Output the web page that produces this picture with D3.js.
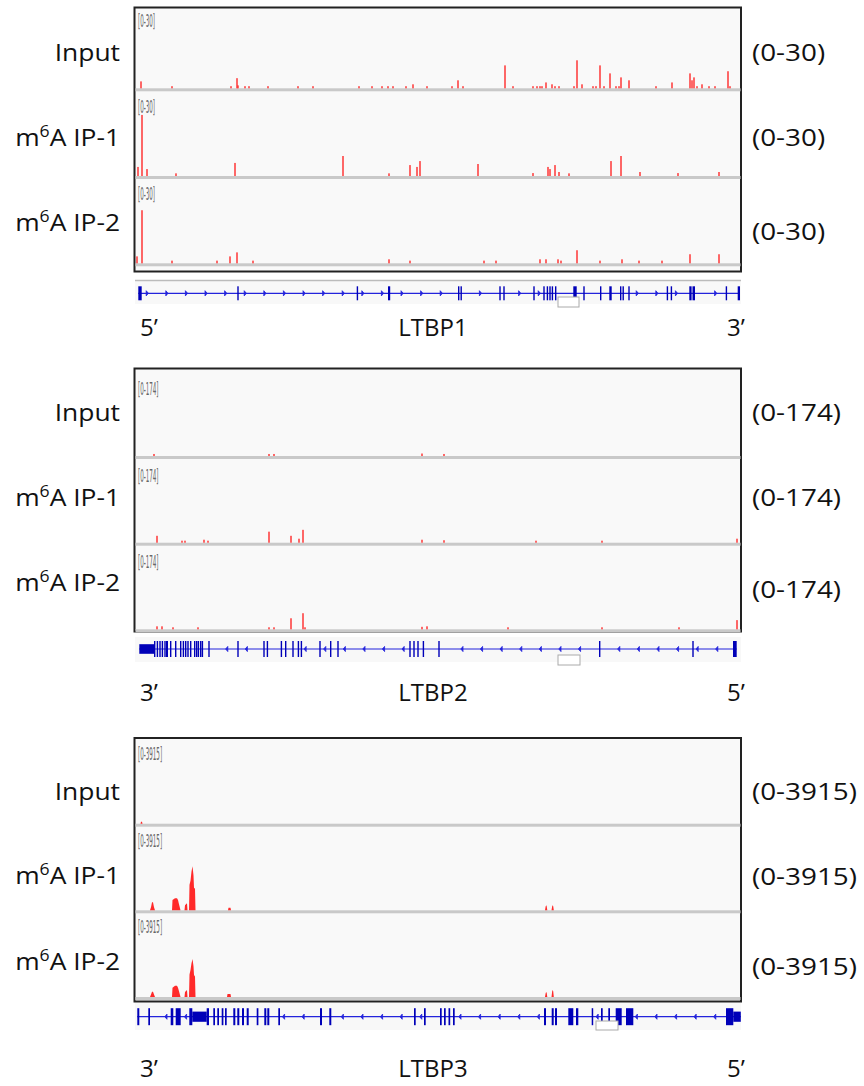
<!DOCTYPE html>
<html>
<head>
<meta charset="utf-8">
<script src="https://cdn.jsdelivr.net/npm/d3@7"></script>
<style>
  body { margin: 0; background: #fff; }
  text { font-family: "Open Sans", sans-serif; }
</style>
</head>
<body>
<div id="chart-area"></div>
<script>
// ---- data ----
var trackNames = ["Input", "IP-1", "IP-2"];
var geneNames = ["LTBP1", "LTBP2", "LTBP3"];
var dataRanges = [30, 174, 3915];
var endLabels = [["5’", "3’"], ["3’", "5’"], ["3’", "5’"]];
var strands = [1, -1, -1];

// [position, value]  (position along the locus, 0-606)
var ltbp1Input = [[6,2.6],[37,0.8],[96,0.8],[102,3.8],[103,1.1],[110,0.8],[114,0.8],[133,0.8],[163,0.8],[178,0.8],
  [224,0.8],[237,0.8],[247,0.8],[253,0.8],[258,0.8],[271,0.8],[278,1.5],[292,0.8],[317,0.8],[323,3],[328,0.8],
  [370,8.6],[378,0.8],[398,0.8],[402,0.8],[405,0.8],[407,0.8],[411,2.2],[417,1.5],[420,0.8],[424,0.8],[439,0.8],
  [442,10.5],[447,1.5],[458,0.8],[461,0.8],[465,8.6],[469,0.8],[475,5.6],[481,0.8],[484,0.8],[486,4.1],[494,3],
  [521,0.8],[537,2.2],[555,5.6],[557,3],[559,4.1],[562,0.8],[567,1.5],[574,0.8],[580,0.8],[593,6.4],[595,0.8]];
var ltbp1IP1 = [[3,3.4],[7,22.9],[12,2.6],[41,1],[100,4.9],[208,7.5],[254,1],[275,4.1],[282,3.4],[285,5.6],
  [343,4.5],[398,1.1],[413,3.4],[415,2.6],[420,4.1],[424,1.5],[434,1],[476,5.6],[486,7.5],[505,1.5],[543,1.1],[584,1.5]];
var ltbp1IP2 = [[2,2.6],[7,19.9],[37,1],[82,1],[95,2.6],[102,4.1],[118,1],[254,1.5],[275,1],[349,1],[361,1],
  [405,1.5],[411,1.5],[423,1.5],[426,1],[442,4.9],[465,1],[487,1.5],[504,1],[527,1],[555,3.4],[584,3.4]];

var ltbp2Input = [[19,4.4],[134,4.4],[139,4.4],[287,5.4],[309,4.4]];
var ltbp2IP1 = [[22,15],[47,4.4],[50,4.4],[69,6.5],[73,4.4],[134,24],[156,15],[164,8.7],[168,28],[287,6.5],
  [309,5.4],[401,4.4],[467,4.4],[602,8.7]];
var ltbp2IP2 = [[22,6.5],[27,6.5],[38,4.4],[63,4.4],[134,4.4],[139,4.4],[156,24],[168,35],[170,4.4],[287,5.4],
  [292,6.5],[373,4.4],[467,4.4],[544,4.4],[602,20]];

// coverage profiles for LTBP3
var ltbp3Input = [[5.5,0],[6,100],[7,100],[7.5,0]];
var ltbp3IP1 = [[15,0],[16,150],[17,390],[18,390],[19,150],[20,0],
  [37,0],[37.5,500],[40,590],[42,590],[43,500],[44,300],[45,100],[45.5,0],
  [49.5,0],[50,250],[52,340],[52.5,0],
  [54,0],[54.5,1250],[55.5,1450],[56.5,1900],[57.5,2160],[58.5,1700],[59,1100],[60,1050],[60.5,0],
  [93,0],[93.5,120],[95.5,120],[96,0],
  [410,0],[410.7,200],[411.2,250],[411.7,200],[412.3,0],
  [416.5,0],[417.2,200],[417.7,250],[418.2,200],[418.8,0]];
var ltbp3IP2 = [[15,0],[16,120],[17,260],[18,260],[19,120],[20,0],
  [37,0],[37.5,450],[40,550],[42,550],[43,450],[44,280],[45,100],[45.5,0],
  [49.5,0],[50,250],[52,340],[52.5,0],
  [54,0],[54.5,1100],[55.5,1320],[56.5,1650],[57.5,1860],[58.5,1500],[59,1080],[60,1000],[60.5,0],
  [92,0],[92.5,150],[95.5,150],[96,0],
  [410,0],[410.7,200],[411.2,250],[411.7,200],[412.3,0],
  [416.5,0],[417.2,280],[417.7,340],[418.2,280],[418.8,0]];

// exons: [start, length, kind]  c = coding, u = utr
var ltbp1Exons = [[3.3,3.4,"c"],[102.3,1.4,"c"],[221.7,1.4,"c"],[253,2.2,"c"],[323,1.4,"c"],[325.5,1.4,"c"],
  [364.3,1.4,"c"],[368.3,1.4,"c"],[398.3,1.4,"c"],[408.3,1.4,"c"],[411.7,1.4,"c"],[414.3,1.4,"c"],[416.7,1.4,"c"],
  [420,1.4,"c"],[438.3,3.4,"c"],[448.3,1.4,"c"],[465,1.4,"c"],[474.3,2.4,"c"],[485,1.3,"c"],[487.5,1.3,"c"],
  [493.3,1.4,"c"],[531.7,1.4,"c"],[535.7,1.4,"c"],[554.3,2.3,"c"],[557.5,2.5,"c"],[590.7,1.4,"c"],[602.7,2.3,"c"]];
var ltbp2Exons = [[4.3,14.7,"u"],[19,1.4,"c"],[21.7,1.4,"c"],[24.3,1.4,"c"],[26.7,1.4,"c"],[29.3,1.4,"c"],[31,2,"c"],
  [35,1.4,"c"],[40,1.4,"c"],[45,1.4,"c"],[47.7,1.4,"c"],[50,1.4,"c"],[52.3,1.4,"c"],[55,1.4,"c"],[59,1.4,"c"],
  [61,1.4,"c"],[62.7,1.4,"c"],[65,1.4,"c"],[66.7,1.4,"c"],[73.3,1.4,"c"],[102.3,1.4,"c"],[128.3,1.4,"c"],
  [131.7,1.4,"c"],[145.7,1.4,"c"],[150,1.4,"c"],[157.3,1.4,"c"],[162.7,1.4,"c"],[165.7,1.4,"c"],[184.3,1.4,"c"],
  [195,1.4,"c"],[202.3,1.4,"c"],[274.3,1.4,"c"],[278.3,1.4,"c"],[282.3,1.4,"c"],[287.7,1.4,"c"],[303.3,1.4,"c"],
  [464,1.4,"c"],[557.3,1.4,"c"],[598,3.7,"c"]];
var ltbp3Exons = [[2.3,2,"c"],[13.3,1.7,"c"],[35.7,2.6,"c"],[40.7,5,"c"],[54.3,3,"c"],[57.3,14.4,"u"],[71.7,2.3,"c"],
  [78.3,1.7,"c"],[82.3,1.7,"c"],[86.7,1.7,"c"],[90,1.7,"c"],[98.3,2,"c"],[102.3,2,"c"],[107,2,"c"],[111.7,2,"c"],
  [121.7,1.7,"c"],[129.3,2,"c"],[132.3,2,"c"],[143.3,1.7,"c"],[185,2,"c"],[194.3,2,"c"],[279,1.7,"c"],[289,1.7,"c"],
  [305,1.7,"c"],[309,1.7,"c"],[313.5,1.7,"c"],[318,1.7,"c"],[409,2,"c"],[416.7,2,"c"],[420,2,"c"],[433.3,5,"c"],
  [441,2.3,"c"],[456.7,1.5,"c"],[466,1.7,"c"],[473.3,1.7,"c"],[480.7,6,"c"],[491,7.3,"c"],[591,7.3,"c"],[598.3,7.5,"u"]];

// ---- layout ----
var panels = [
  { tracks: [ltbp1Input, ltbp1IP1, ltbp1IP2], type: "bar", exons: ltbp1Exons,
    boxTop: 7.5, boxBottom: 271.5, baselines: [88.3, 176, 263.3], tagTop: [11, 97, 184],
    leftY: [61, 146, 231], rightY: [61, 146, 240],
    geneY: 293.3, geneBg: [280, 304], exonH: 14, bottomY: 336, tagBox: [558, 297, 21, 10] },
  { tracks: [ltbp2Input, ltbp2IP1, ltbp2IP2], type: "bar", exons: ltbp2Exons,
    boxTop: 368.5, boxBottom: 631.5, baselines: [456, 542.7, 629.3], tagTop: [379, 466, 552],
    leftY: [421, 506, 591], rightY: [421, 506, 598],
    geneY: 649, geneBg: [637, 662], exonH: 16, bottomY: 701, tagBox: [558, 655, 22, 10] },
  { tracks: [ltbp3Input, ltbp3IP1, ltbp3IP2], type: "area", exons: ltbp3Exons,
    boxTop: 738, boxBottom: 1001.5, baselines: [823.7, 910.3, 997], tagTop: [744, 831, 917],
    leftY: [800, 884, 970], rightY: [800, 885, 975],
    geneY: 1016.7, geneBg: [1003, 1030], exonH: 17, bottomY: 1077, tagBox: [596, 1021, 22, 9] }
];

var width = 864, height = 1086;
var left = 135, right = 741;
var trackH = 80;

var svg = d3.select("#chart-area").append("svg")
  .attr("width", width)
  .attr("height", height);

var x = d3.scaleLinear()
  .domain([0, 606])
  .range([left, right]);

var red = "#ff2a2a";
var blue = "#0000b8";
var lineBlue = "#2323dc";

panels.forEach(function(p, pi) {
  var g = svg.append("g");

  // panel box
  g.append("rect")
    .attr("x", left - 0.5)
    .attr("y", p.boxTop)
    .attr("width", right - left + 0.5)
    .attr("height", p.boxBottom - p.boxTop)
    .attr("fill", "#f9f9f9")
    .attr("stroke", "#222")
    .attr("stroke-width", 2);

  p.tracks.forEach(function(vals, ti) {
    var base = p.baselines[ti];
    var y = d3.scaleLinear()
      .domain([0, dataRanges[pi]])
      .range([base, base - trackH]);

    // baseline separator
    g.append("rect")
      .attr("x", left + 0.5)
      .attr("y", base)
      .attr("width", right - left - 1)
      .attr("height", 3)
      .attr("fill", "#c9c9c9");

    if (p.type == "bar") {
      g.append("g").selectAll("rect")
        .data(vals)
        .join("rect")
          .attr("x", d => x(d[0]) - 0.7)
          .attr("width", 1.4)
          .attr("y", d => y(d[1]))
          .attr("height", d => base - y(d[1]))
          .attr("fill", red);
    } else {
      var area = d3.area()
        .x(d => x(d[0]))
        .y0(base)
        .y1(d => y(d[1]));
      g.append("path")
        .attr("d", area(vals))
        .attr("fill", red);
    }

    // little data range tag in the corner
    g.append("text")
      .attr("transform", "translate(" + (left + 3) + "," + (p.tagTop[ti] + 16) + ") scale(0.62,2)")
      .attr("font-size", 9)
      .attr("fill", "#666")
      .style("font-family", "DejaVu Sans")
      .text("[0-" + dataRanges[pi] + "]");

    // left label (slightly stretched like the original)
    var lab = g.append("text")
      .attr("transform", "translate(120," + p.leftY[ti] + ") scale(1.1,1)")
      .attr("text-anchor", "end")
      .attr("font-size", 24)
      .attr("fill", "#111");
    if (ti == 0) {
      lab.text(trackNames[ti]);
    } else {
      lab.append("tspan").text("m");
      lab.append("tspan").attr("dy", -9).attr("font-size", 16).text("6");
      lab.append("tspan").attr("dy", 9).text("A " + trackNames[ti]);
    }

    // right label
    g.append("text")
      .attr("transform", "translate(752," + p.rightY[ti] + ") scale(1.16,1)")
      .attr("font-size", 24)
      .attr("fill", "#111")
      .text("(0-" + dataRanges[pi] + ")");
  });

  // gene model
  var gy = p.geneY;
  g.append("rect")
    .attr("x", left)
    .attr("y", p.geneBg[0])
    .attr("width", right - left)
    .attr("height", p.geneBg[1] - p.geneBg[0])
    .attr("fill", "#f8f8f8");
  if (pi == 0) {
    g.append("line")
      .attr("x1", left).attr("x2", right)
      .attr("y1", p.geneBg[0] + 0.5).attr("y2", p.geneBg[0] + 0.5)
      .attr("stroke", "#bbb").attr("stroke-width", 1.5);
  }

  var ex = p.exons;
  var first = ex[0][0], last = ex[ex.length - 1][0] + ex[ex.length - 1][1];
  g.append("line")
    .attr("x1", x(first)).attr("x2", x(last))
    .attr("y1", gy).attr("y2", gy)
    .attr("stroke", lineBlue)
    .attr("stroke-width", 1.2);

  // strand arrows along the introns
  var arrows = d3.range(first + 9, last - 3, 19.6).filter(function(a) {
    return !ex.some(e => a > e[0] - 3 && a < e[0] + e[1] + 3);
  });
  g.append("g").selectAll("path")
    .data(arrows)
    .join("path")
      .attr("d", function(a) {
        var ax = x(a), s = strands[pi] * 1.1;
        return "M" + (ax - s) + "," + (gy - 2.6) + "L" + (ax + s) + "," + gy + "L" + (ax - s) + "," + (gy + 2.6) + "Z";
      })
      .attr("fill", lineBlue)
      .attr("stroke", lineBlue)
      .attr("stroke-width", 0.8);

  g.append("g").selectAll("rect")
    .data(ex)
    .join("rect")
      .attr("x", d => x(d[0]))
      .attr("width", d => Math.max(1.4, x(d[0] + d[1]) - x(d[0])))
      .attr("y", d => gy - (d[2] == "u" ? p.exonH * 0.3 : p.exonH / 2))
      .attr("height", d => d[2] == "u" ? p.exonH * 0.6 : p.exonH)
      .attr("fill", blue);

  // tiny igv name box
  g.append("rect")
    .attr("x", p.tagBox[0]).attr("y", p.tagBox[1])
    .attr("width", p.tagBox[2]).attr("height", p.tagBox[3])
    .attr("fill", "#fff")
    .attr("stroke", "#aaa")
    .attr("stroke-width", 1);

  // bottom labels
  g.append("text")
    .attr("x", 140).attr("y", p.bottomY)
    .attr("font-size", 24).attr("fill", "#111")
    .text(endLabels[pi][0]);
  g.append("text")
    .attr("x", 433).attr("y", p.bottomY)
    .attr("text-anchor", "middle")
    .attr("font-size", 24).attr("fill", "#111")
    .text(geneNames[pi]);
  g.append("text")
    .attr("x", 727).attr("y", p.bottomY)
    .attr("font-size", 24).attr("fill", "#111")
    .text(endLabels[pi][1]);
});
</script>
</body>
</html>
